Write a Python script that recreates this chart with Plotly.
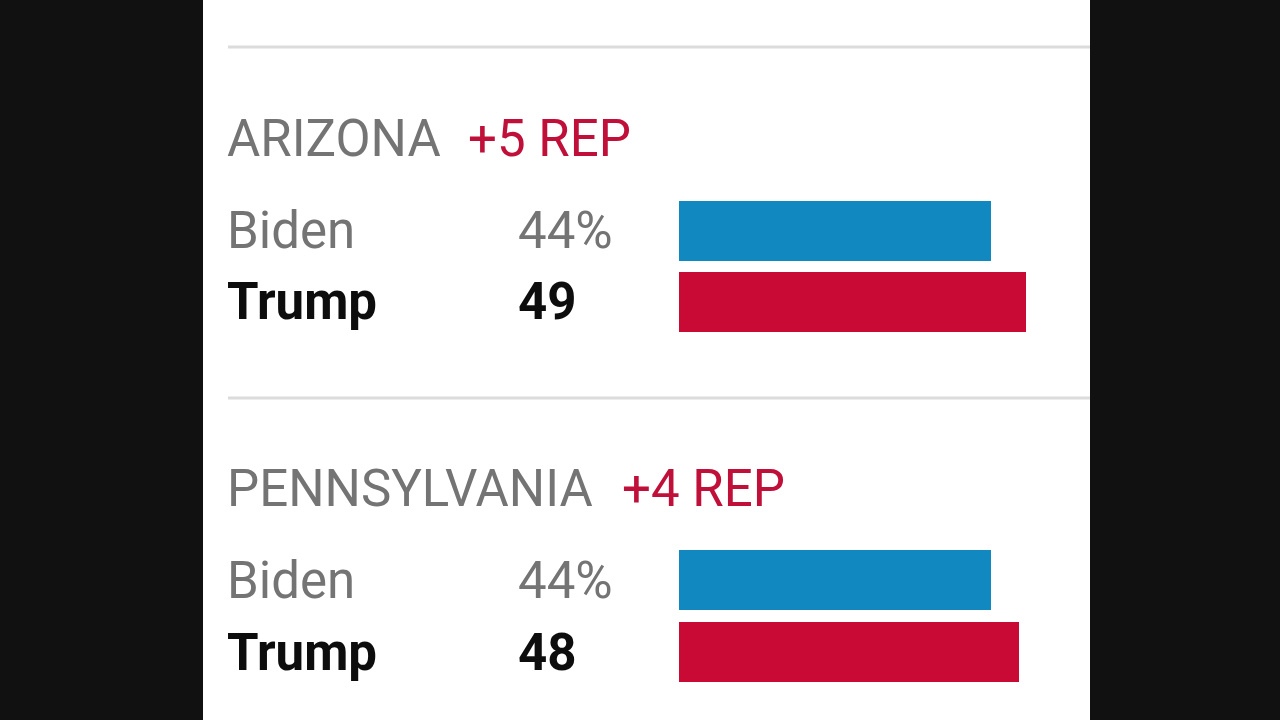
import plotly.graph_objects as go

W, H = 1280, 720

states = ["ARIZONA", "PENNSYLVANIA"]
margins = ["+5 REP", "+4 REP"]
candidates = ["Biden", "Trump"]
biden_vals = [44, 44]
trump_vals = [49, 48]

BLUE = "#1189c0"
RED = "#c80a34"
GREY = "#747474"
REDTXT = "#c0103a"
BLACK = "#0d0d0d"
BG = "#111111"
FS = 51


def px(x):
    return x / W


def py(y):
    return 1 - y / H


fig = go.Figure()

# pixel positions of each state block
blocks = [
    dict(title_y=138, margin_x=466, row_y=[231, 301], bar_top=194.5, bar_bot=336.5),
    dict(title_y=488, margin_x=620, row_y=[580, 652], bar_top=543.5, bar_bot=687.5),
]

annotations = []
shapes = []

# white panel
shapes.append(dict(type="rect", xref="paper", yref="paper",
                   x0=px(203), x1=px(1090), y0=0, y1=1,
                   fillcolor="white", line=dict(width=0), layer="below"))
# separator lines
for ly in [47, 398]:
    shapes.append(dict(type="line", xref="paper", yref="paper",
                       x0=px(228), x1=px(1090), y0=py(ly), y1=py(ly),
                       line=dict(color="#dcdcdc", width=3)))

XRANGE = 55
x0_px, x1_px = 679, 679 + 7.08 * XRANGE

for i, (st, mg, blk) in enumerate(zip(states, margins, blocks)):
    ax = "" if i == 0 else str(i + 1)
    vals = [biden_vals[i], trump_vals[i]]
    fig.add_trace(go.Bar(
        x=vals, y=[0, 1], orientation="h", width=0.845,
        marker=dict(color=[BLUE, RED], line=dict(width=0)),
        xaxis="x" + ax, yaxis="y" + ax, showlegend=False, hoverinfo="skip",
    ))
    fig.layout["xaxis" + ax] = dict(domain=[px(x0_px), px(x1_px)], range=[0, XRANGE],
                                    visible=False, fixedrange=True,
                                    anchor="y" + ax)
    fig.layout["yaxis" + ax] = dict(domain=[py(blk["bar_bot"]), py(blk["bar_top"])],
                                    range=[1.5, -0.5], visible=False, fixedrange=True,
                                    anchor="x" + ax)

    annotations.append(dict(text=st, x=px(225), y=py(blk["title_y"]),
                            font=dict(family="Roboto", size=FS, color=GREY)))
    annotations.append(dict(text=mg, x=px(blk["margin_x"]), y=py(blk["title_y"]),
                            font=dict(family="Roboto", size=FS, color=REDTXT)))
    for j, cand in enumerate(candidates):
        bold = j == 1
        col = BLACK if bold else GREY
        lbl = f"<b>{cand}</b>" if bold else cand
        v = vals[j]
        vt = f"<b>{v}</b>" if bold else f"{v}%"
        annotations.append(dict(text=lbl, x=px(225), y=py(blk["row_y"][j]),
                                font=dict(family="Roboto", size=FS, color=col)))
        annotations.append(dict(text=vt, x=px(516), y=py(blk["row_y"][j]),
                                font=dict(family="Roboto", size=FS, color=col)))

for a in annotations:
    a.update(xref="paper", yref="paper", xanchor="left", yanchor="middle",
             showarrow=False)

fig.update_layout(
    width=W, height=H, margin=dict(l=0, r=0, t=0, b=0),
    paper_bgcolor=BG, plot_bgcolor="rgba(0,0,0,0)",
    shapes=shapes, annotations=annotations, bargap=0,
)

fig.write_html("out.html", config={"displayModeBar": False})
